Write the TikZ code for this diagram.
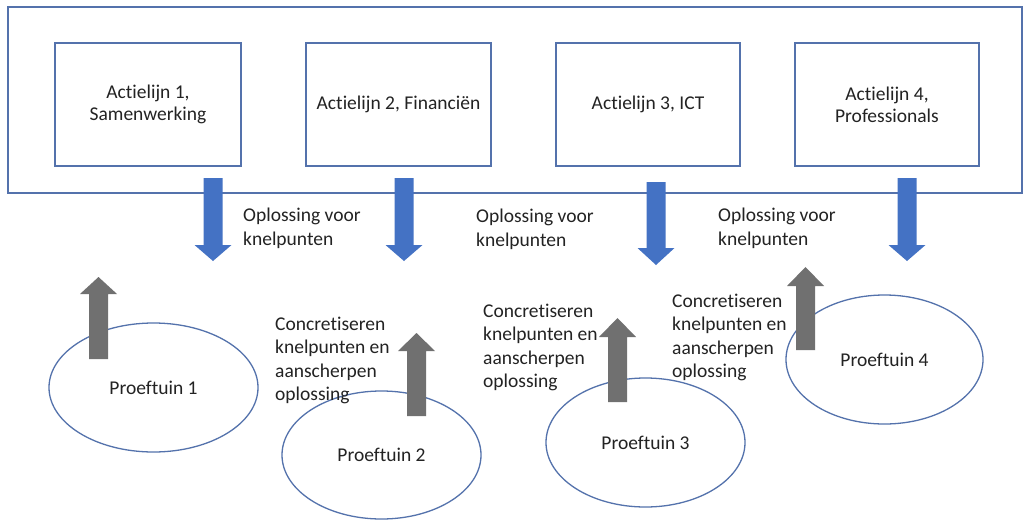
\documentclass[tikz,border=0pt]{standalone}
\usepackage{fontspec}
\setmainfont{Carlito}[Ligatures={NoCommon}]
\definecolor{linecol}{RGB}{84,114,172}
\definecolor{arrowblue}{RGB}{68,114,196}
\definecolor{arrowgrey}{RGB}{112,112,112}
\definecolor{txt}{RGB}{35,35,35}
\newcommand\blockarrow[5]{% fill colour, x, tail y, head base y, tip y
  \fill[#1] (#2-9.5,#3) -- (#2+9.5,#3) -- (#2+9.5,#4) -- (#2+18.5,#4) -- (#2,#5)
    -- (#2-18.5,#4) -- (#2-9.5,#4) -- cycle;}
\tikzset{
  actbox/.style={draw=linecol, line width=1.3pt, minimum width=186pt, minimum height=123pt,
    text=txt, align=center, font=\fontsize{19.5}{22}\selectfont, inner sep=0pt},
  tuin/.style={draw=linecol, line width=1.3pt, ellipse, text=txt, font=\fontsize{19.5}{22}\selectfont},
  lbl/.style={text=txt, align=left, inner sep=0pt, anchor=base west, font=\fontsize{19.5}{23.5}\selectfont},
}
\usetikzlibrary{shapes.geometric}
\begin{document}
\begin{tikzpicture}[x=1pt,y=-1pt]
\useasboundingbox (0,0) rectangle (1026,523);
\fill[white] (0,0) rectangle (1026,523);
\draw[linecol, line width=1.3pt] (8,7) rectangle (1022,193);
\node[actbox] (a1) at (148,104.5) {Actielijn 1,\\Samenwerking};
\node[actbox, minimum width=185pt] (a2) at (398.5,104.5) {Actielijn 2, Financiën};
\node[actbox, minimum width=184pt] (a3) at (648,104.5) {Actielijn 3, ICT};
\node[actbox, minimum width=184pt] (a4) at (887,104.5) {Actielijn 4,\\Professionals};
% ellipses
\node[tuin, minimum width=209pt, minimum height=129pt] (p1) at (153.5,387.5) {Proeftuin 1};
\node[tuin, minimum width=199pt, minimum height=128pt] (p2) at (381.5,455) {Proeftuin 2};
\node[tuin, minimum width=199pt, minimum height=129pt] (p3) at (645.5,442.5) {Proeftuin 3};
\node[tuin, minimum width=197pt, minimum height=129pt] (p4) at (884.5,359.5) {Proeftuin 4};
% blue arrows
\blockarrow{arrowblue}{213}{178}{245}{261}
\blockarrow{arrowblue}{404}{178}{245}{261}
\blockarrow{arrowblue}{656}{182}{248}{265}
\blockarrow{arrowblue}{907}{178}{245}{261}
% grey arrows
\blockarrow{arrowgrey}{98.5}{359}{294}{277}
\blockarrow{arrowgrey}{416.5}{416}{351}{333}
\blockarrow{arrowgrey}{617.5}{402}{337}{318}
\blockarrow{arrowgrey}{805.5}{350}{286}{267}
% labels (anchor = baseline of last line)
\node[lbl] (o1) at (243,245) {Oplossing voor\\knelpunten};
\node[lbl] (o2) at (476,246) {Oplossing voor\\knelpunten};
\node[lbl] (o3) at (718,245) {Oplossing voor\\knelpunten};
\node[lbl] (c2) at (275,400.5) {Concretiseren\\knelpunten en\\aanscherpen\\oplossing};
\node[lbl] (c3) at (483,387.5) {Concretiseren\\knelpunten en\\aanscherpen\\oplossing};
\node[lbl] (c4) at (672,377.5) {Concretiseren\\knelpunten en\\aanscherpen\\oplossing};
\end{tikzpicture}
\end{document}
